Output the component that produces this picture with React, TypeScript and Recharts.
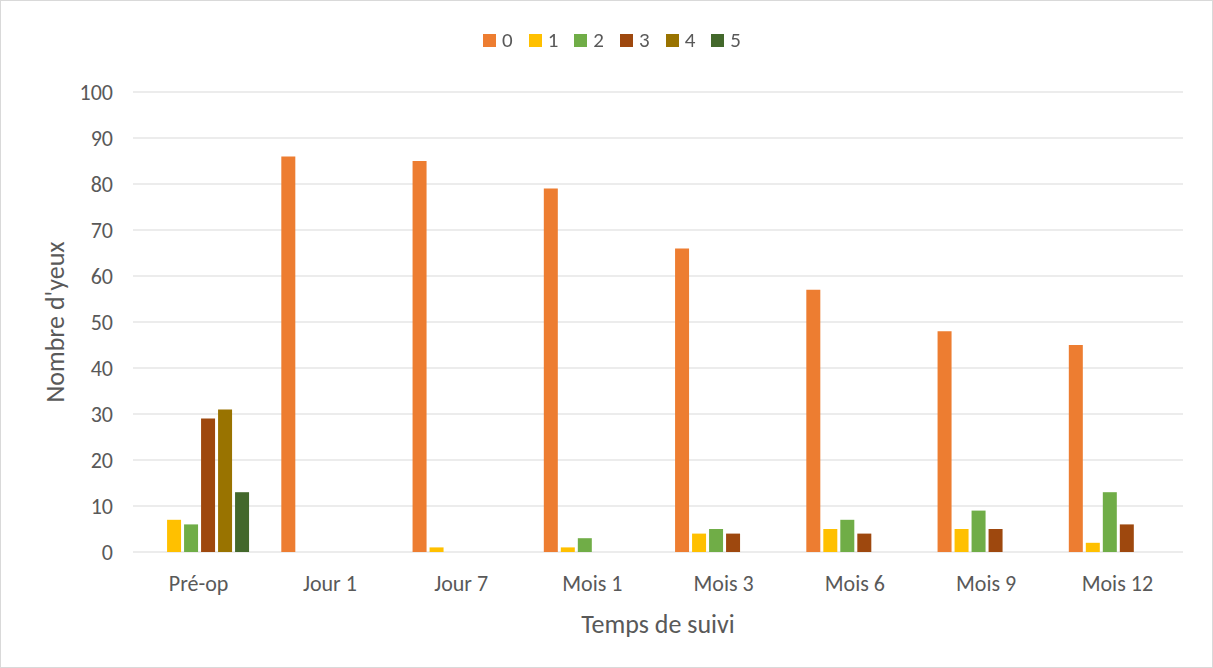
import React from 'react';
import { BarChart, Bar, XAxis, YAxis, CartesianGrid, Legend, Label } from 'recharts';

const categories = ['Pré-op', 'Jour 1', 'Jour 7', 'Mois 1', 'Mois 3', 'Mois 6', 'Mois 9', 'Mois 12'];
const values0 = [0, 86, 85, 79, 66, 57, 48, 45];
const values1 = [7, 0, 1, 1, 4, 5, 5, 2];
const values2 = [6, 0, 0, 3, 5, 7, 9, 13];
const values3 = [29, 0, 0, 0, 4, 4, 5, 6];
const values4 = [31, 0, 0, 0, 0, 0, 0, 0];
const values5 = [13, 0, 0, 0, 0, 0, 0, 0];
const seriesNames = ['0', '1', '2', '3', '4', '5'];
const seriesColors = ['#ED7D31', '#FFC000', '#70AD47', '#9E480E', '#997300', '#43682B'];
const yTicks = [0, 10, 20, 30, 40, 50, 60, 70, 80, 90, 100];
const xTitle = 'Temps de suivi';
const yTitle = "Nombre d'yeux";

const allValues = [values0, values1, values2, values3, values4, values5];
const data = categories.map((c, i) => {
  const row: Record<string, string | number> = { cat: c };
  seriesNames.forEach((s, k) => {
    row['s' + s] = allValues[k][i];
  });
  return row;
});

const FONT = 'Calibri, Carlito, Lato, "Open Sans", "Liberation Sans", sans-serif';
const TEXT = '#595959';

const LegendContent = () => (
  <div style={{ display: 'flex', justifyContent: 'center', alignItems: 'center', fontFamily: FONT, fontSize: 21, color: TEXT, lineHeight: '24px' }}>
    {seriesNames.map((s, k) => (
      <div key={s} style={{ display: 'flex', alignItems: 'center', margin: '0 8px' }}>
        <div style={{ width: 13, height: 13, background: seriesColors[k], marginRight: 6 }} />
        <span>{s}</span>
      </div>
    ))}
  </div>
);

export default function App() {
  return (
    <div style={{ position: 'fixed', left: 0, top: 0, width: 1213, height: 668, boxSizing: 'border-box', border: '1px solid #d9d9d9', background: '#fff' }}>
      <BarChart
        width={1211}
        height={666}
        data={data}
        margin={{ top: 60, right: 29, bottom: 40, left: 0 }}
        barCategoryGap="13%"
        barGap={3}
      >
        <Legend verticalAlign="top" align="center" height={31} content={<LegendContent />} wrapperStyle={{ top: 27, left: 0, width: 1222 }} />
        <CartesianGrid vertical={false} stroke="#d9d9d9" strokeWidth={1} />
        <XAxis
          dataKey="cat"
          axisLine={false}
          tickLine={false}
          tickSize={0}
          tickMargin={23}
          height={75}
          tick={{ fill: TEXT, fontSize: 22, fontFamily: FONT }}
          interval={0}
        >
          <Label value={xTitle} position="insideBottom" offset={-6} style={{ fill: TEXT, fontSize: 26, fontFamily: FONT }} />
        </XAxis>
        <YAxis
          domain={[0, 100]}
          ticks={yTicks}
          axisLine={false}
          tickLine={false}
          tickSize={0}
          tickMargin={20}
          width={132}
          tick={{ fill: TEXT, fontSize: 22, fontFamily: FONT }}
        >
          <Label value={yTitle} angle={-90} position="insideLeft" offset={54} style={{ textAnchor: 'middle', fill: TEXT, fontSize: 26, fontFamily: FONT }} />
        </YAxis>
        {seriesNames.map((s, k) => (
          <Bar key={s} dataKey={'s' + s} name={s} fill={seriesColors[k]} isAnimationActive={false} />
        ))}
      </BarChart>
    </div>
  );
}
